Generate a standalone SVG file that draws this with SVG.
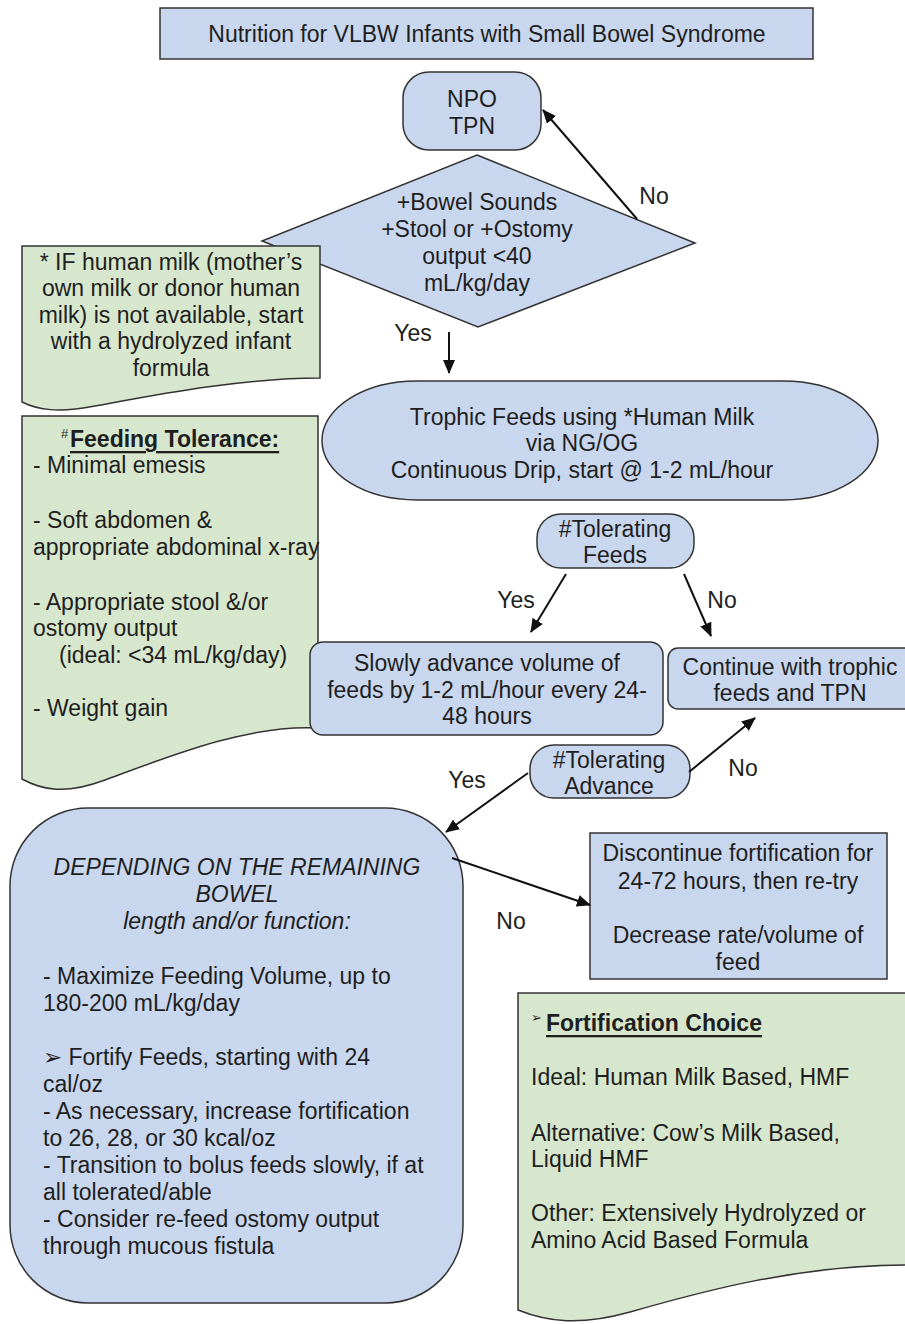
<svg xmlns="http://www.w3.org/2000/svg" width="905" height="1324" viewBox="0 0 905 1324">
<style>
.blue{fill:#c9d7ee;stroke:#333;stroke-width:1.5}
.green{fill:#d7e7cd;stroke:#333;stroke-width:1.5}
text{font-family:"Liberation Sans",Arial,sans-serif;font-size:23px;fill:#1e1e1e;dominant-baseline:central}
.c{text-anchor:middle}
.b{font-weight:bold;text-decoration:underline}
.i{font-style:italic}
.sup{font-size:13px}
.conn{stroke:#111;stroke-width:2;fill:none;marker-end:url(#ah)}
</style>
<defs>
<marker id="ah" markerUnits="userSpaceOnUse" markerWidth="14" markerHeight="12" refX="13" refY="6" orient="auto">
<path d="M0,0 L14,6 L0,12 z" fill="#111"/>
</marker>
</defs>
<rect width="905" height="1324" fill="#fff"/>

<g id="title">
<rect class="blue" x="160" y="8" width="653" height="51"/>
<text class="c" x="487" y="34">Nutrition for VLBW Infants with Small Bowel Syndrome</text>
</g>

<g id="npo">
<rect class="blue" x="403" y="72" width="138" height="78" rx="26"/>
<text class="c" x="472" y="99">NPO</text>
<text class="c" x="472" y="126">TPN</text>
</g>

<g id="diamond">
<polygon class="blue" points="477,155 695,243 478,327 262,241"/>
<text class="c" x="477" y="202">+Bowel Sounds</text>
<text class="c" x="477" y="229">+Stool or +Ostomy</text>
<text class="c" x="477" y="256">output &lt;40</text>
<text class="c" x="477" y="283">mL/kg/day</text>
</g>

<g id="note-milk">
<path class="green" d="M22,246 H320 V378 C 240,378 150,396 95,406 C 58,413 38,410 22,402 Z"/>
<text class="c" x="171" y="262">* IF human milk (mother’s</text>
<text class="c" x="171" y="288">own milk or donor human</text>
<text class="c" x="171" y="315">milk) is not available, start</text>
<text class="c" x="171" y="341">with a hydrolyzed infant</text>
<text class="c" x="171" y="368">formula</text>
</g>

<g id="trophic">
<rect class="blue" x="322" y="381" width="556" height="119" rx="95" ry="59"/>
<text class="c" x="582" y="417">Trophic Feeds using *Human Milk</text>
<text class="c" x="582" y="443">via NG/OG</text>
<text class="c" x="582" y="470">Continuous Drip, start @ 1-2 mL/hour</text>
</g>

<g id="feeding-tolerance">
<path class="green" d="M22,416 H318 V728 C 250,724 170,756 105,780 C 65,795 42,790 22,779 Z"/>
<text x="61" y="433" class="sup">#</text>
<text x="70" y="439" class="b">Feeding Tolerance:</text>
<text x="33" y="465">- Minimal emesis</text>
<text x="33" y="520">- Soft abdomen &amp;</text>
<text x="33" y="547">appropriate abdominal x-ray</text>
<text x="33" y="602">- Appropriate stool &amp;/or</text>
<text x="33" y="628">ostomy output</text>
<text x="59" y="655">(ideal: &lt;34 mL/kg/day)</text>
<text x="33" y="708">- Weight gain</text>
</g>

<g id="tol-feeds">
<rect class="blue" x="537" y="514" width="157" height="54" rx="24"/>
<text class="c" x="615" y="529">#Tolerating</text>
<text class="c" x="615" y="555">Feeds</text>
</g>

<g id="advance">
<rect class="blue" x="310" y="642" width="353" height="93" rx="13"/>
<text class="c" x="487" y="663">Slowly advance volume of</text>
<text class="c" x="487" y="690">feeds by 1-2 mL/hour every 24-</text>
<text class="c" x="487" y="716">48 hours</text>
</g>

<g id="continue">
<rect class="blue" x="668" y="648" width="250" height="61" rx="10"/>
<text class="c" x="790" y="667">Continue with trophic</text>
<text class="c" x="790" y="693">feeds and TPN</text>
</g>

<g id="tol-advance">
<rect class="blue" x="530" y="745" width="160" height="53" rx="24"/>
<text class="c" x="609" y="760">#Tolerating</text>
<text class="c" x="609" y="786">Advance</text>
</g>

<g id="remaining-bowel">
<rect class="blue" x="10" y="808" width="453" height="495" rx="78"/>
<text class="c i" x="237" y="867">DEPENDING ON THE REMAINING</text>
<text class="c i" x="237" y="894">BOWEL</text>
<text class="c i" x="237" y="921">length and/or function:</text>
<text x="43" y="976">- Maximize Feeding Volume, up to</text>
<text x="43" y="1003">180-200 mL/kg/day</text>
<text x="43" y="1057">➢ Fortify Feeds, starting with 24</text>
<text x="43" y="1084">cal/oz</text>
<text x="43" y="1111">- As necessary, increase fortification</text>
<text x="43" y="1138">to 26, 28, or 30 kcal/oz</text>
<text x="43" y="1165">- Transition to bolus feeds slowly, if at</text>
<text x="43" y="1192">all tolerated/able</text>
<text x="43" y="1219">- Consider re-feed ostomy output</text>
<text x="43" y="1246">through mucous fistula</text>
</g>

<g id="discontinue">
<rect class="blue" x="590" y="833" width="297" height="146"/>
<text class="c" x="738" y="853">Discontinue fortification for</text>
<text class="c" x="738" y="881">24-72 hours, then re-try</text>
<text class="c" x="738" y="935">Decrease rate/volume of</text>
<text class="c" x="738" y="962">feed</text>
</g>

<g id="fortification-choice">
<path class="green" d="M518,993 H915 V1265 C 800,1264 700,1292 630,1312 C 580,1326 548,1322 518,1310 Z"/>
<text x="531" y="1017" class="sup">➢</text>
<text x="546" y="1023" class="b">Fortification Choice</text>
<text x="531" y="1077">Ideal: Human Milk Based, HMF</text>
<text x="531" y="1133">Alternative: Cow’s Milk Based,</text>
<text x="531" y="1159">Liquid HMF</text>
<text x="531" y="1213">Other: Extensively Hydrolyzed or</text>
<text x="531" y="1240">Amino Acid Based Formula</text>
</g>

<g id="connectors">
<line class="conn" x1="637" y1="219" x2="543" y2="110"/>
<line class="conn" x1="449" y1="332" x2="449" y2="373"/>
<line class="conn" x1="566" y1="574" x2="531" y2="632"/>
<line class="conn" x1="684" y1="574" x2="711" y2="636"/>
<line class="conn" x1="528" y1="773" x2="446" y2="832"/>
<line class="conn" x1="689" y1="772" x2="755" y2="718"/>
<line class="conn" x1="452" y1="858" x2="590" y2="905"/>
<text class="c" x="654" y="196">No</text>
<text class="c" x="413" y="333">Yes</text>
<text class="c" x="516" y="600">Yes</text>
<text class="c" x="722" y="600">No</text>
<text class="c" x="467" y="780">Yes</text>
<text class="c" x="743" y="768">No</text>
<text class="c" x="511" y="921">No</text>
</g>
</svg>
